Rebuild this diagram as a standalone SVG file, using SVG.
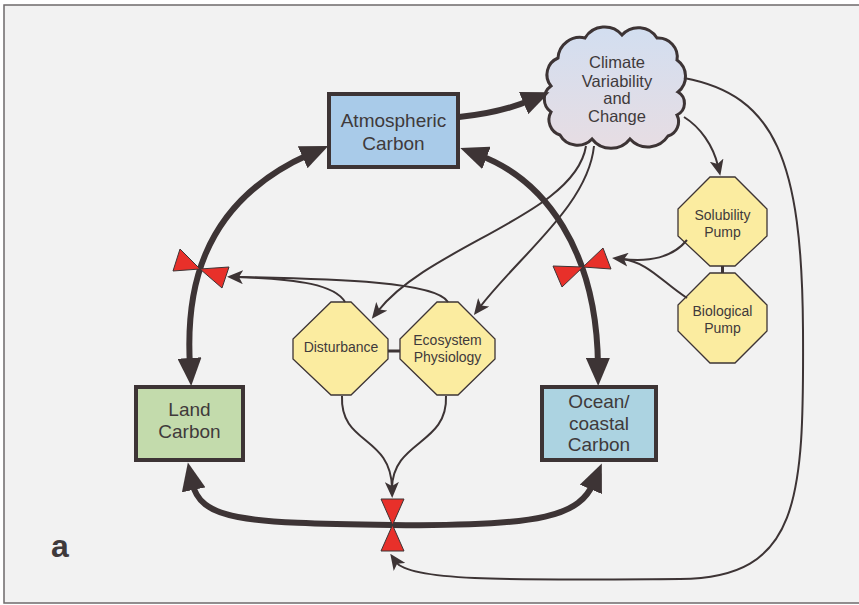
<svg xmlns="http://www.w3.org/2000/svg" width="859" height="605" viewBox="0 0 859 605">
  <defs>
    <linearGradient id="cloudFill" x1="0" y1="0" x2="0" y2="1">
      <stop offset="0" stop-color="#d2def0"/>
      <stop offset="1" stop-color="#e7dde3"/>
    </linearGradient>
    <marker id="bigHead" markerUnits="userSpaceOnUse" markerWidth="28" markerHeight="24" refX="8" refY="12" orient="auto-start-reverse" viewBox="0 0 28 24">
      <path d="M0,0 L28,12 L0,24 z" fill="#3d3435"/>
    </marker>
    <marker id="smallHead" markerUnits="userSpaceOnUse" markerWidth="16" markerHeight="14" refX="6" refY="7" orient="auto-start-reverse" viewBox="0 0 16 14">
      <path d="M0,0 L16,7 L0,14 L4,7 z" fill="#3d3435"/>
    </marker>
    <style>
      .frame { fill: #f2f2f2; stroke: #6e6a6b; stroke-width: 1.5; }
      .box { stroke: #3d3435; stroke-width: 4; }
      .oct { fill: #fbeca0; stroke: #3d3435; stroke-width: 1.3; }
      .cloud { fill: url(#cloudFill); stroke: #3d3435; stroke-width: 3; }
      .lbl { font-family: "Liberation Sans", Arial, sans-serif; fill: #3f3a3b; text-anchor: middle; }
      .big { font-size: 19px; }
      .mid { font-size: 16.5px; }
      .sm { font-size: 14px; }
      .thick { fill: none; stroke: #3d3435; stroke-width: 6; }
      .thin { fill: none; stroke: #3d3435; stroke-width: 2; }
      .tie { fill: none; stroke: #3d3435; stroke-width: 3; }
      .valve { fill: #e8302a; stroke: #3d3435; stroke-width: 1; stroke-linejoin: round; }
    </style>
  </defs>

  <rect x="0" y="0" width="859" height="605" fill="#ffffff"/>
  <rect class="frame" x="4" y="5" width="870" height="598"/>

  <!-- carbon pools -->
  <g id="atmospheric-carbon">
    <rect class="box" x="329" y="94" width="129" height="73" fill="#a9cbe9"/>
    <text class="lbl big" x="393.5" y="127">Atmospheric</text>
    <text class="lbl big" x="393.5" y="150">Carbon</text>
  </g>
  <g id="land-carbon">
    <rect class="box" x="136" y="387" width="107" height="73" fill="#c3dbac"/>
    <text class="lbl big" x="189.5" y="416">Land</text>
    <text class="lbl big" x="189.5" y="438">Carbon</text>
  </g>
  <g id="ocean-carbon">
    <rect class="box" x="542" y="387" width="114" height="73" fill="#acd3e1"/>
    <text class="lbl big" x="599" y="408">Ocean/</text>
    <text class="lbl big" x="599" y="430">coastal</text>
    <text class="lbl big" x="599" y="451">Carbon</text>
  </g>

  <!-- climate cloud -->
  <g id="climate">
    <path class="cloud" d="M558,58 A22,22 0 0 1 585,38 A23,23 0 0 1 622,35 A22,22 0 0 1 657,38 A19,19 0 0 1 677,60 A20,20 0 0 1 678,92 A13,13 0 0 1 677,115 A15,15 0 0 1 668,136 A24,24 0 0 1 630,139 A24,24 0 0 1 592,139 A20,20 0 0 1 560,135 A16,16 0 0 1 551,112 A16,16 0 0 1 551,86 A18,18 0 0 1 558,58 Z"/>
    <text class="lbl mid" x="617" y="68">Climate</text>
    <text class="lbl mid" x="617" y="86.5">Variability</text>
    <text class="lbl mid" x="617" y="104">and</text>
    <text class="lbl mid" x="617" y="122">Change</text>
  </g>

  <!-- process nodes -->
  <g id="disturbance">
    <polygon class="oct" points="331,302 351,302 388,339 388,359 351,395 331,395 293,359 293,339"/>
    <text class="lbl sm" x="341" y="352">Disturbance</text>
  </g>
  <g id="ecosystem-physiology">
    <polygon class="oct" points="437,302 458,302 495,339 495,359 458,395 437,395 400,359 400,339"/>
    <text class="lbl sm" x="447.5" y="345">Ecosystem</text>
    <text class="lbl sm" x="447.5" y="362">Physiology</text>
  </g>
  <g id="solubility-pump">
    <polygon class="oct" points="710,177 735,177 767,209 767,236 735,266 710,266 678,236 678,209"/>
    <text class="lbl sm" x="722.5" y="220">Solubility</text>
    <text class="lbl sm" x="722.5" y="237">Pump</text>
  </g>
  <g id="biological-pump">
    <polygon class="oct" points="710,273 735,273 767,305 767,331 735,363 710,363 678,331 678,305"/>
    <text class="lbl sm" x="722.5" y="316">Biological</text>
    <text class="lbl sm" x="722.5" y="333">Pump</text>
  </g>

  <!-- connectors -->
  <g id="connectors">
    <!-- node ties -->
    <line class="tie" x1="388" y1="351" x2="400" y2="351"/>
    <line class="tie" x1="722.5" y1="266" x2="722.5" y2="273"/>

    <!-- carbon fluxes -->
    <path class="thick" d="M459,117 Q500,113 531,100" marker-end="url(#bigHead)"/>
    <path class="thick" d="M190,366 C186,300 195,205 310,154" marker-start="url(#bigHead)" marker-end="url(#bigHead)"/>
    <path class="thick" d="M479,155 C545,180 597,250 598,366" marker-start="url(#bigHead)" marker-end="url(#bigHead)"/>
    <path class="thick" d="M192,482 C200,520 240,523 392,525 C545,527 580,515 594,482" marker-start="url(#bigHead)" marker-end="url(#bigHead)"/>

    <!-- climate influences -->
    <path class="thin" d="M586,146 C575,215 430,245 378,311" marker-end="url(#smallHead)"/>
    <path class="thin" d="M594,146 C588,205 520,255 480,307" marker-end="url(#smallHead)"/>
    <path class="thin" d="M684,117 C700,127 713,145 718,166" marker-end="url(#smallHead)"/>
    <path class="thin" d="M684,78 C775,95 802,160 803,330 C804,500 800,578 680,579 C520,580 410,582 396,562" marker-end="url(#smallHead)"/>

    <!-- land process controls -->
    <path class="thin" d="M448,302 C436,282 340,279 237,277"/>
    <path class="thin" d="M345,302 C335,285 300,279 237,277" marker-end="url(#smallHead)"/>
    <path class="thin" d="M446,396 C448,445 393,440 392,488"/>
    <path class="thin" d="M342,396 C340,445 391,435 392,488" marker-end="url(#smallHead)"/>

    <!-- ocean pump controls -->
    <path class="thin" d="M687,298 C662,282 648,262 622,259"/>
    <path class="thin" d="M687,240 C672,258 650,262 622,259" marker-end="url(#smallHead)"/>

    <!-- valves -->
    <g id="valve-land">
      <polygon class="valve" points="180,249 173,271 200,269"/>
      <polygon class="valve" points="200,269 229,267 222,288"/>
    </g>
    <g id="valve-ocean">
      <polygon class="valve" points="553,266 562,287 583,267"/>
      <polygon class="valve" points="583,267 603,248 611,269"/>
    </g>
    <g id="valve-exchange">
      <polygon class="valve" points="381,499 404,499 392.5,525"/>
      <polygon class="valve" points="392.5,525 381,551 404,551"/>
    </g>
  </g>

  <text x="51" y="557" font-family="Liberation Sans, Arial, sans-serif" font-size="32" font-weight="bold" fill="#3f3a3b">a</text>
</svg>
